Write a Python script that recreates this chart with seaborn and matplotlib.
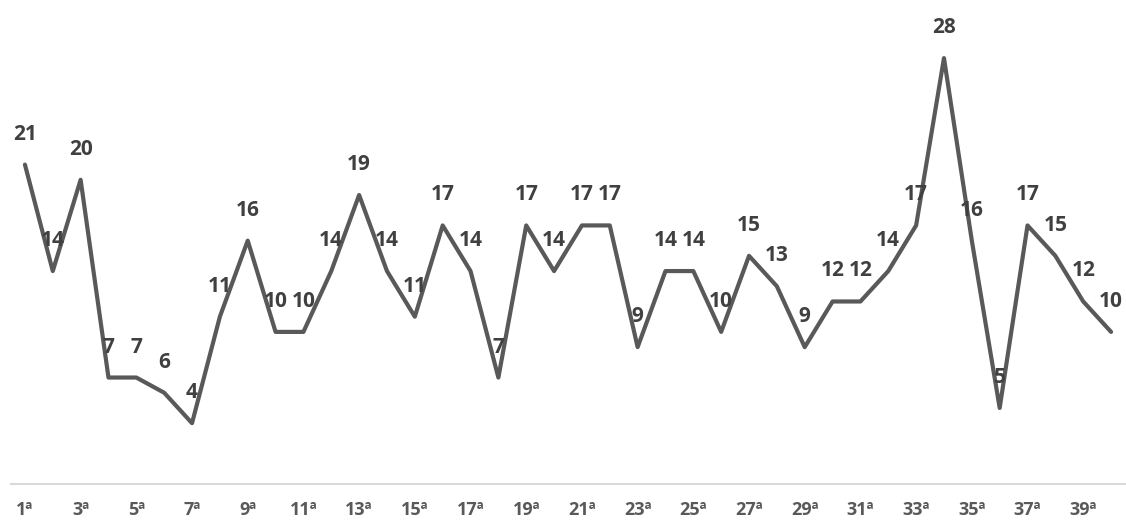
import pandas as pd
import seaborn as sns
import matplotlib.pyplot as plt

# categorias 1ª .. 40ª
rodadas = [f'{i}ª' for i in range(1, 41)]
valores = [21, 14, 20, 7, 7, 6, 4, 11, 16, 10,
           10, 14, 19, 14, 11, 17, 14, 7, 17, 14,
           17, 17, 9, 14, 14, 10, 15, 13, 9, 12,
           12, 14, 17, 28, 16, 5, 17, 15, 12, 10]
rotulos_x = rodadas[::2]

sns.set_style('white')
plt.rcParams['font.family'] = ['Open Sans', 'DejaVu Sans']

df = pd.DataFrame({'pos': range(len(valores)), 'valor': valores})

fig = plt.figure(figsize=(11.26, 5.22), dpi=100)
ax = fig.add_axes([11 / 1126, 38 / 522, 1114 / 1126, (484 - 27.7) / 522])

sns.lineplot(data=df, x='pos', y='valor', ax=ax, color='#595959', linewidth=3)

for i, v in enumerate(valores):
    ax.annotate(str(v), (i, v), xytext=(0, 18), textcoords='offset points',
                ha='center', va='baseline', fontsize=15, fontweight='bold',
                color='#404040')

ax.set_xlim(-0.5, 39.5)
ax.set_ylim(0, 30)
ax.set_xticks(range(0, 40, 2))
ax.set_xticklabels(rotulos_x, fontsize=13, fontweight='bold', color='#595959')
ax.set_yticks([])
ax.tick_params(axis='x', length=0, pad=12)
ax.set_xlabel('')
ax.set_ylabel('')
for lado in ['top', 'left', 'right']:
    ax.spines[lado].set_visible(False)
ax.spines['bottom'].set_color('#d9d9d9')
ax.spines['bottom'].set_linewidth(1.5)

plt.savefig('out.png', dpi=100)
